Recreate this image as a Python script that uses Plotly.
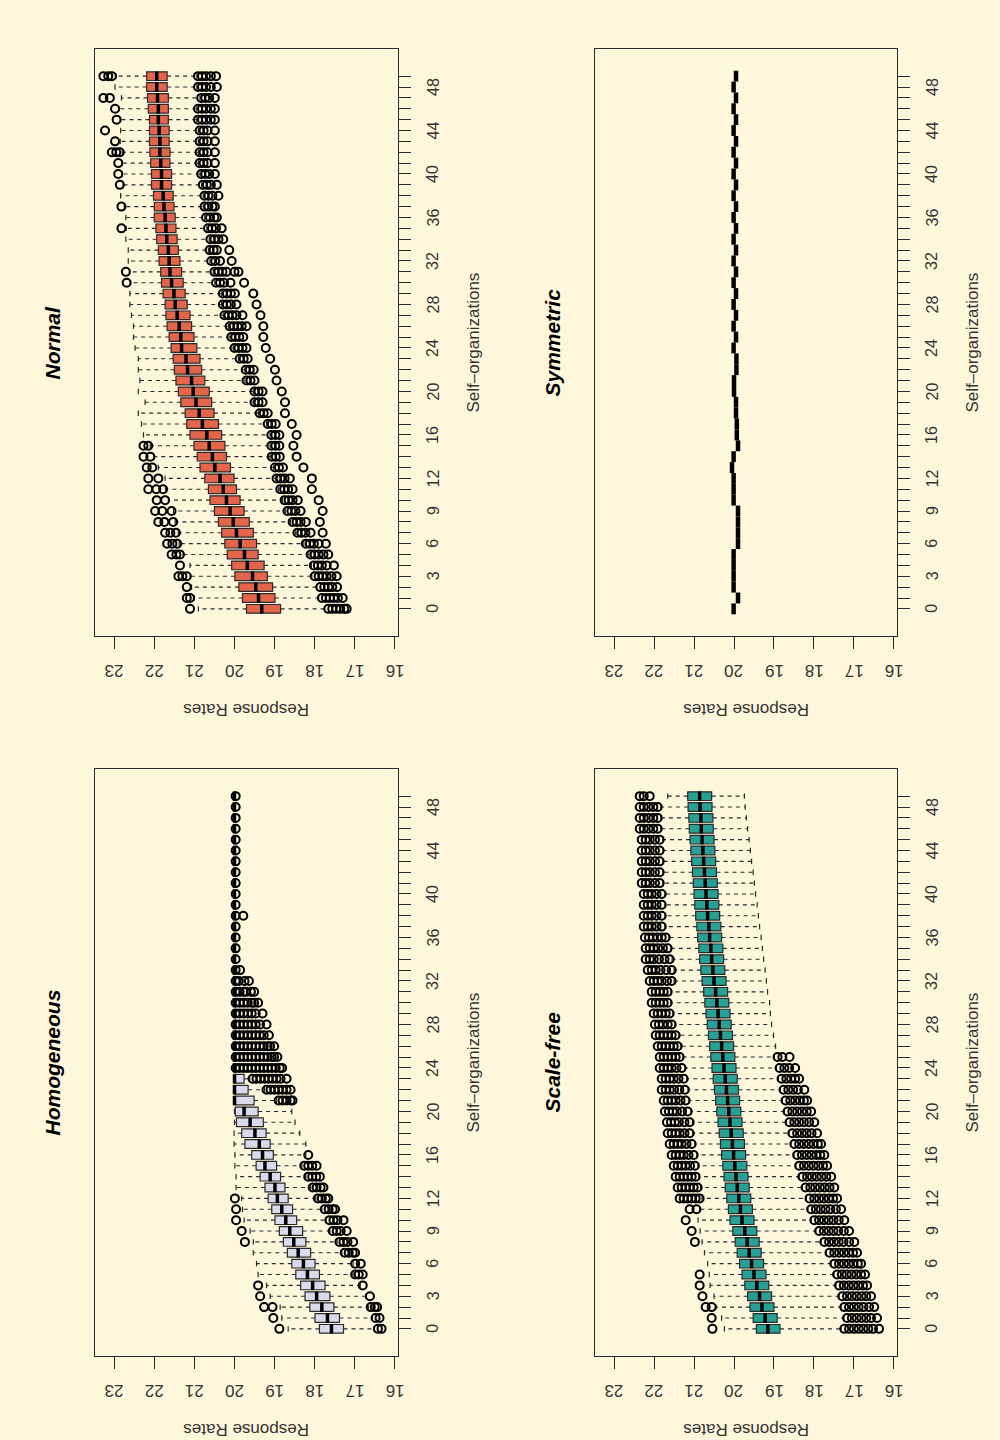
import plotly.graph_objects as go

# ---------------- data ----------------
CATS = list(range(50))
CAT_LABEL_VALUES = [0, 3, 6, 9, 12, 16, 20, 24, 28, 32, 36, 40, 44, 48]
RATE_TICKS = [16, 17, 18, 19, 20, 21, 22, 23]

# Normal
normal_q1 = [18.85, 18.99, 19.05, 19.18, 19.26, 19.41, 19.45, 19.53, 19.63, 19.76,
             19.86, 19.95, 20.01, 20.10, 20.20, 20.24, 20.32, 20.40, 20.51, 20.57,
             20.63, 20.74, 20.82, 20.86, 20.94, 21.01, 21.07, 21.11, 21.18, 21.23,
             21.28, 21.32, 21.36, 21.40, 21.43, 21.46, 21.48, 21.51, 21.53, 21.57,
             21.57, 21.61, 21.61, 21.63, 21.63, 21.65, 21.65, 21.65, 21.68, 21.68]
normal_med = [19.32, 19.40, 19.47, 19.55, 19.68, 19.75, 19.86, 19.95, 20.03, 20.11,
              20.20, 20.28, 20.36, 20.49, 20.55, 20.63, 20.69, 20.80, 20.88, 20.96,
              21.03, 21.07, 21.17, 21.21, 21.32, 21.34, 21.38, 21.43, 21.48, 21.51,
              21.57, 21.61, 21.63, 21.65, 21.69, 21.71, 21.73, 21.76, 21.78, 21.82,
              21.82, 21.84, 21.86, 21.86, 21.88, 21.90, 21.90, 21.92, 21.94, 21.94]
normal_q3 = [19.70, 19.80, 19.89, 19.99, 20.07, 20.18, 20.24, 20.32, 20.40, 20.50,
             20.61, 20.65, 20.74, 20.86, 20.93, 21.01, 21.11, 21.19, 21.23, 21.34,
             21.40, 21.46, 21.50, 21.53, 21.58, 21.63, 21.68, 21.71, 21.73, 21.78,
             21.82, 21.84, 21.88, 21.90, 21.94, 21.96, 22.00, 22.00, 22.02, 22.07,
             22.07, 22.09, 22.11, 22.12, 22.12, 22.12, 22.15, 22.17, 22.19, 22.19]
normal_uw = [20.90, 21.00, 21.07, 21.10, 21.11, 21.28, 21.38, 21.40, 21.48, 21.52,
             21.65, 21.72, 21.73, 21.90, 22.00, 22.10, 22.27, 22.32, 22.40, 22.23,
             22.40, 22.36, 22.40, 22.40, 22.48, 22.52, 22.52, 22.57, 22.61, 22.61,
             22.60, 22.62, 22.65, 22.65, 22.71, 22.70, 22.71, 22.75, 22.84, 22.78,
             22.80, 22.80, 22.80, 22.85, 22.84, 22.85, 22.88, 22.82, 22.98, 22.95]
normal_lw = [17.75, 17.90, 17.95, 18.07, 18.08, 18.14, 18.27, 18.47, 18.60, 18.73,
             18.80, 18.90, 18.97, 19.02, 19.11, 19.11, 19.11, 19.20, 19.40, 19.53,
             19.53, 19.74, 19.74, 19.90, 20.03, 20.11, 20.15, 20.28, 20.32, 20.32,
             20.49, 20.53, 20.61, 20.65, 20.63, 20.69, 20.74, 20.78, 20.78, 20.82,
             20.86, 20.90, 20.90, 20.90, 20.90, 20.94, 20.94, 20.86, 20.94, 20.94]
normal_out_hi = [[21.11], [21.19, 21.11], [21.19], [21.40, 21.30, 21.19], [21.36],
                 [21.57, 21.45, 21.36], [21.68, 21.55, 21.43], [21.73, 21.60, 21.46],
                 [21.90, 21.75, 21.53], [21.98, 21.80, 21.57], [21.94, 21.73],
                 [22.15, 21.95, 21.78], [22.15, 21.90], [22.19, 22.05], [22.27, 22.10],
                 [22.27, 22.15], [], [], [], [], [], [], [], [], [], [], [], [], [], [],
                 [22.69], [22.71], [], [], [], [22.82], [], [22.82], [], [22.86],
                 [22.90], [22.90], [23.06, 22.95, 22.86], [22.98], [23.23], [22.94],
                 [22.98], [23.27, 23.11], [], [23.27, 23.15, 23.06]]
normal_out_lo = [
    [17.66, 17.56, 17.46, 17.36, 17.26, 17.20], [17.82, 17.72, 17.62, 17.52, 17.42, 17.30],
    [17.86, 17.76, 17.66, 17.56, 17.44], [18.00, 17.90, 17.80, 17.70, 17.58, 17.45],
    [18.02, 17.92, 17.82, 17.70, 17.52], [18.10, 18.00, 17.90, 17.78, 17.66],
    [18.22, 18.12, 18.02, 17.90, 17.72], [18.43, 18.33, 18.23, 18.10, 17.80],
    [18.55, 18.45, 18.35, 18.22, 17.87], [18.68, 18.58, 18.48, 18.35, 17.80],
    [18.75, 18.65, 18.55, 18.42, 17.90], [18.86, 18.76, 18.66, 18.55, 18.07],
    [18.95, 18.85, 18.75, 18.62, 18.07], [18.99, 18.89, 18.79, 18.28],
    [19.07, 18.97, 18.87, 18.45], [19.08, 18.98, 18.88, 18.53],
    [19.08, 18.98, 18.88, 18.45], [19.17, 19.07, 18.97, 18.57],
    [19.37, 19.27, 19.17, 18.74], [19.50, 19.40, 19.30, 18.74],
    [19.50, 19.40, 19.30, 18.82], [19.70, 19.60, 19.50, 18.95],
    [19.72, 19.62, 19.52, 18.99], [19.87, 19.77, 19.67, 19.11],
    [20.00, 19.90, 19.80, 19.70, 19.22], [20.08, 19.98, 19.88, 19.78, 19.28],
    [20.12, 20.02, 19.92, 19.82, 19.70, 19.28], [20.25, 20.15, 20.05, 19.95, 19.80, 19.35],
    [20.29, 20.19, 20.09, 19.95, 19.45], [20.29, 20.19, 20.09, 19.99, 19.53],
    [20.46, 20.36, 20.26, 20.10, 19.76], [20.50, 20.40, 20.30, 20.20, 20.00, 19.90],
    [20.58, 20.48, 20.36, 20.07], [20.62, 20.52, 20.44, 20.13],
    [20.60, 20.50, 20.40, 20.28], [20.66, 20.56, 20.46, 20.32],
    [20.71, 20.61, 20.50, 20.44], [20.75, 20.65, 20.55, 20.49],
    [20.75, 20.65, 20.55, 20.40], [20.79, 20.69, 20.59, 20.44],
    [20.83, 20.73, 20.63, 20.49], [20.87, 20.77, 20.67, 20.49],
    [20.87, 20.77, 20.67, 20.49], [20.87, 20.77, 20.67, 20.49],
    [20.87, 20.77, 20.67, 20.49], [20.91, 20.81, 20.71, 20.59, 20.49],
    [20.91, 20.81, 20.71, 20.59, 20.49], [20.83, 20.73, 20.63, 20.49],
    [20.91, 20.81, 20.71, 20.59, 20.44], [20.91, 20.81, 20.71, 20.59, 20.46]]

# Homogeneous
homog_q1 = [17.28, 17.38, 17.52, 17.62, 17.74, 17.88, 17.99, 18.10, 18.22, 18.30,
            18.45, 18.55, 18.66, 18.74, 18.85, 18.95, 19.03, 19.11, 19.21, 19.28,
            19.41, 19.51, 19.66, 19.76, 20.00, 20.00, 20.00, 20.00, 20.00, 20.00,
            20.00, 20.00, 20.00, 20.00, 20.00, 20.00, 20.00, 20.00, 20.00, 20.00,
            20.00, 20.00, 20.00, 20.00, 20.00, 20.00, 20.00, 20.00, 20.00, 20.00]
homog_med = [17.58, 17.68, 17.82, 17.95, 18.05, 18.18, 18.28, 18.41, 18.52, 18.62,
             18.72, 18.82, 18.93, 18.99, 19.11, 19.24, 19.30, 19.38, 19.49, 19.61,
             19.76, 20.00, 20.00, 20.00, 20.00, 20.00, 20.00, 20.00, 20.00, 20.00,
             20.00, 20.00, 20.00, 20.00, 20.00, 20.00, 20.00, 20.00, 20.00, 20.00,
             20.00, 20.00, 20.00, 20.00, 20.00, 20.00, 20.00, 20.00, 20.00, 20.00]
homog_q3 = [17.88, 17.99, 18.12, 18.24, 18.35, 18.47, 18.57, 18.68, 18.78, 18.88,
            18.99, 19.07, 19.16, 19.24, 19.36, 19.46, 19.57, 19.74, 19.82, 19.95,
            19.98, 20.00, 20.00, 20.00, 20.00, 20.00, 20.00, 20.00, 20.00, 20.00,
            20.00, 20.00, 20.00, 20.00, 20.00, 20.00, 20.00, 20.00, 20.00, 20.00,
            20.00, 20.00, 20.00, 20.00, 20.00, 20.00, 20.00, 20.00, 20.00, 20.00]
homog_uw = [18.66, 18.82, 18.86, 19.11, 19.20, 19.41, 19.45, 19.53, 19.53, 19.61,
            19.76, 19.80, 19.82, 19.96, 19.96, 19.99, 19.99, 20.01, 20.01, 20.00,
            20.00, 20.00, 20.00, 20.00, 20.00, 20.00, 20.00, 20.00, 20.00, 20.00,
            20.00, 20.00, 20.00, 20.00, 20.00, 20.00, 20.00, 20.00, 20.00, 20.00,
            20.00, 20.00, 20.00, 20.00, 20.00, 20.00, 20.00, 20.00, 20.00, 20.00]
homog_lw = [16.52, 16.56, 16.66, 16.72, 16.86, 17.04, 17.04, 17.32, 17.44, 17.62,
            17.72, 17.82, 17.97, 18.10, 18.22, 18.32, 18.22, 18.22, 18.37, 18.49,
            18.57, 18.95, 19.25, 19.62, 20.00, 20.00, 20.00, 20.00, 20.00, 20.00,
            20.00, 20.00, 20.00, 20.00, 20.00, 20.00, 20.00, 20.00, 20.00, 20.00,
            20.00, 20.00, 20.00, 20.00, 20.00, 20.00, 20.00, 20.00, 20.00, 20.00]
homog_out_hi = [[18.88], [19.03], [19.26, 19.05], [19.36], [19.41], [], [], [],
                [19.74], [19.82], [19.96], [19.96], [19.99], [], [], [], [], [], [], [],
                [], [], [], [], [], [], [], [], [], [], [], [], [], [], [], [], [], [],
                [], [], [], [], [], [], [], [], [], [], [], []]
homog_out_lo = [
    [16.42, 16.33], [16.48, 16.38], [16.60, 16.50, 16.44], [16.62], [16.80],
    [16.99, 16.90, 16.80], [16.99, 16.85], [17.25, 17.15, 17.05, 16.99],
    [17.38, 17.28, 17.18, 17.04], [17.55, 17.45, 17.35, 17.20],
    [17.63, 17.53, 17.43, 17.28], [17.75, 17.65, 17.55, 17.49],
    [17.92, 17.82, 17.72, 17.66], [18.05, 17.95, 17.85, 17.78],
    [18.16, 18.06, 17.96, 17.87], [18.26, 18.16, 18.06, 17.95], [18.16], [], [], [], [],
    [18.90, 18.80, 18.70, 18.60, 18.55],
    [19.20, 19.10, 19.00, 18.90, 18.80, 18.70, 18.60],
    [19.55, 19.45, 19.35, 19.25, 19.15, 19.05, 18.95, 18.85, 18.70],
    [19.97, 19.87, 19.77, 19.67, 19.57, 19.47, 19.37, 19.27, 19.17, 19.07, 18.97, 18.87, 18.81],
    [19.97, 19.87, 19.77, 19.67, 19.57, 19.47, 19.37, 19.27, 19.17, 19.07, 19.01, 18.93],
    [19.97, 19.87, 19.77, 19.67, 19.57, 19.47, 19.37, 19.27, 19.17, 19.11, 19.01],
    [19.97, 19.87, 19.77, 19.67, 19.57, 19.47, 19.37, 19.27, 19.14],
    [19.97, 19.87, 19.77, 19.67, 19.57, 19.47, 19.36, 19.20],
    [19.97, 19.87, 19.77, 19.67, 19.57, 19.47, 19.30],
    [19.97, 19.87, 19.77, 19.67, 19.57, 19.51, 19.41],
    [19.97, 19.87, 19.77, 19.72, 19.59, 19.51],
    [19.97, 19.89, 19.75, 19.64], [19.97, 19.86], [19.97], [19.97], [19.97], [19.97],
    [19.97, 19.78], [19.97], [19.97], [19.97], [19.97], [19.97], [19.97], [19.97],
    [19.97], [19.97], [19.97], [19.97]]

# Scale-free
scale_med = [19.15, 19.22, 19.30, 19.36, 19.43, 19.50, 19.56, 19.62, 19.67, 19.73,
             19.80, 19.84, 19.88, 19.92, 19.95, 19.98, 20.01, 20.04, 20.07, 20.10,
             20.13, 20.16, 20.19, 20.22, 20.25, 20.28, 20.31, 20.34, 20.37, 20.40,
             20.43, 20.46, 20.50, 20.53, 20.56, 20.58, 20.61, 20.63, 20.66, 20.68,
             20.70, 20.72, 20.74, 20.76, 20.78, 20.80, 20.82, 20.83, 20.85, 20.86]
scale_q3 = [19.44, 19.52, 19.60, 19.66, 19.73, 19.80, 19.86, 19.92, 19.97, 20.03,
            20.10, 20.14, 20.18, 20.22, 20.25, 20.28, 20.31, 20.34, 20.37, 20.40,
            20.43, 20.46, 20.49, 20.52, 20.55, 20.58, 20.61, 20.64, 20.67, 20.70,
            20.73, 20.76, 20.80, 20.83, 20.86, 20.88, 20.91, 20.93, 20.96, 20.98,
            21.00, 21.02, 21.04, 21.06, 21.08, 21.10, 21.12, 21.13, 21.15, 21.16]
scale_q1 = [18.85, 18.92, 19.00, 19.06, 19.13, 19.20, 19.26, 19.32, 19.37, 19.43,
            19.50, 19.54, 19.58, 19.62, 19.65, 19.68, 19.71, 19.74, 19.77, 19.80,
            19.83, 19.86, 19.89, 19.92, 19.95, 19.98, 20.01, 20.04, 20.07, 20.10,
            20.13, 20.16, 20.20, 20.23, 20.26, 20.28, 20.31, 20.33, 20.36, 20.38,
            20.40, 20.42, 20.44, 20.46, 20.48, 20.50, 20.52, 20.53, 20.55, 20.56]
scale_uw = [20.24, 20.31, 20.45, 20.50, 20.60, 20.62, 20.66, 20.74, 20.80, 20.85,
            20.90, 20.86, 20.80, 20.84, 20.88, 20.90, 20.93, 20.98, 21.03, 21.04,
            21.08, 21.13, 21.15, 21.18, 21.23, 21.28, 21.33, 21.38, 21.48, 21.53,
            21.58, 21.58, 21.50, 21.50, 21.55, 21.58, 21.63, 21.73, 21.73, 21.73,
            21.73, 21.78, 21.78, 21.78, 21.78, 21.78, 21.83, 21.83, 21.83, 21.66]
scale_lw = [17.32, 17.25, 17.32, 17.37, 17.45, 17.50, 17.57, 17.69, 17.82, 17.95,
            18.07, 18.15, 18.19, 18.29, 18.37, 18.45, 18.50, 18.57, 18.62, 18.69,
            18.74, 18.79, 18.84, 18.89, 18.94, 18.99, 18.96, 19.01, 19.06, 19.09,
            19.11, 19.16, 19.19, 19.22, 19.26, 19.29, 19.32, 19.36, 19.39, 19.42,
            19.46, 19.49, 19.52, 19.56, 19.59, 19.62, 19.66, 19.69, 19.72, 19.74]
scale_out_hi = [
    [20.54], [20.56], [20.71, 20.56], [20.79], [20.86], [20.86], [], [], [20.98], [21.06],
    [21.21], [21.11, 20.94],
    [21.36, 21.26, 21.16, 21.06, 20.96, 20.86], [21.41, 21.31, 21.21, 21.11, 21.01, 20.91],
    [21.46, 21.36, 21.26, 21.16, 21.06, 20.96], [21.51, 21.41, 21.31, 21.21, 21.10, 20.98],
    [21.56, 21.46, 21.36, 21.26, 21.14, 21.01], [21.61, 21.51, 21.41, 21.31, 21.19, 21.06],
    [21.66, 21.56, 21.46, 21.36, 21.24, 21.11], [21.68, 21.58, 21.48, 21.38, 21.24, 21.11],
    [21.73, 21.63, 21.53, 21.43, 21.30, 21.16], [21.76, 21.66, 21.56, 21.46, 21.34, 21.21],
    [21.81, 21.71, 21.61, 21.50, 21.37, 21.23], [21.81, 21.71, 21.61, 21.51, 21.39, 21.26],
    [21.86, 21.76, 21.66, 21.56, 21.44, 21.31], [21.86, 21.76, 21.66, 21.56, 21.46, 21.36],
    [21.91, 21.81, 21.71, 21.61, 21.51, 21.41], [21.96, 21.86, 21.76, 21.66, 21.56, 21.46],
    [21.98, 21.88, 21.78, 21.66, 21.56], [22.01, 21.91, 21.81, 21.71, 21.61],
    [22.06, 21.96, 21.86, 21.76, 21.66], [22.06, 21.96, 21.86, 21.76, 21.66],
    [22.11, 22.01, 21.91, 21.81, 21.68, 21.56], [22.16, 22.06, 21.96, 21.84, 21.70, 21.56],
    [22.21, 22.11, 22.01, 21.88, 21.74, 21.61], [22.21, 22.11, 22.01, 21.90, 21.78, 21.66],
    [22.23, 22.13, 22.03, 21.92, 21.81, 21.71], [22.26, 22.16, 22.06, 21.94, 21.81],
    [22.26, 22.16, 22.06, 21.94, 21.81], [22.26, 22.16, 22.06, 21.94, 21.81],
    [22.26, 22.16, 22.06, 21.94, 21.81], [22.31, 22.21, 22.11, 21.98, 21.86],
    [22.31, 22.21, 22.11, 21.98, 21.86], [22.31, 22.21, 22.11, 21.98, 21.86],
    [22.31, 22.21, 22.11, 21.98, 21.86], [22.31, 22.21, 22.11, 21.98, 21.86],
    [22.36, 22.26, 22.14, 22.02, 21.91], [22.36, 22.26, 22.14, 22.02, 21.91],
    [22.36, 22.26, 22.14, 22.02, 21.91], [22.36, 22.26, 22.11]]
scale_out_lo = [
    [17.24, 17.12, 17.00, 16.88, 16.76, 16.64, 16.52, 16.37],
    [17.17, 17.05, 16.93, 16.81, 16.69, 16.57, 16.42],
    [17.24, 17.12, 17.00, 16.88, 16.76, 16.62, 16.49],
    [17.29, 17.17, 17.05, 16.93, 16.81, 16.69, 16.57],
    [17.37, 17.25, 17.13, 17.01, 16.89, 16.77, 16.67],
    [17.42, 17.30, 17.18, 17.06, 16.94, 16.82, 16.72],
    [17.49, 17.37, 17.25, 17.13, 17.01, 16.90, 16.82],
    [17.61, 17.49, 17.37, 17.25, 17.13, 17.02, 16.92],
    [17.74, 17.62, 17.50, 17.38, 17.26, 17.12, 16.99],
    [17.87, 17.75, 17.63, 17.51, 17.39, 17.25, 17.12],
    [17.99, 17.87, 17.75, 17.63, 17.51, 17.38, 17.24],
    [18.07, 17.95, 17.83, 17.71, 17.59, 17.45, 17.32],
    [18.11, 17.99, 17.87, 17.75, 17.63, 17.52, 17.42],
    [18.21, 18.09, 17.97, 17.85, 17.73, 17.61, 17.49],
    [18.29, 18.17, 18.05, 17.93, 17.81, 17.69, 17.57],
    [18.37, 18.25, 18.13, 18.01, 17.89, 17.77, 17.67],
    [18.42, 18.30, 18.18, 18.06, 17.94, 17.84, 17.74],
    [18.49, 18.37, 18.25, 18.13, 18.01, 17.90, 17.82],
    [18.54, 18.42, 18.30, 18.18, 18.06, 17.92],
    [18.61, 18.49, 18.37, 18.25, 18.12, 17.99],
    [18.66, 18.54, 18.42, 18.30, 18.18, 18.07],
    [18.71, 18.59, 18.47, 18.35, 18.25, 18.17],
    [18.76, 18.64, 18.52, 18.40, 18.24],
    [18.81, 18.69, 18.57, 18.47, 18.37],
    [18.86, 18.74, 18.62, 18.47],
    [18.91, 18.79, 18.61],
    [], [], [], [], [], [], [], [], [], [], [], [], [], [], [], [], [], [], [], [], [], [], [], []]

# Symmetric
sym_val = [20.01, 19.90, 20.01, 20.01, 20.01, 20.01, 19.90, 19.90, 19.90, 19.90,
           20.01, 20.01, 20.01, 20.05, 20.01, 19.90, 19.93, 19.93, 19.95, 19.95,
           20.00, 20.00, 19.94, 19.94, 20.01, 19.95, 20.01, 19.95, 20.01, 19.95,
           20.01, 19.95, 20.01, 19.95, 20.01, 19.95, 20.01, 19.95, 20.01, 19.95,
           20.01, 19.95, 20.01, 19.95, 20.01, 19.95, 20.01, 19.95, 20.01, 19.95]

# ---------------- styling ----------------
BG = "#FFF7DC"
INK = "#2a2a2a"
TXT = "#333333"
FONT = "Liberation Sans, Arial, sans-serif"
BOX_HALF = 0.4
CAP_HALF = 0.25
RATE_RANGE = [23.48, 15.92]
CAT_RANGE = [-2.5, 51.5]
COL_DOM = [[0.095, 0.398], [0.595, 0.897]]
ROW_DOM = [[0.5583, 0.9660], [0.0583, 0.4660]]

panels = [
    dict(title="Normal", q1=normal_q1, med=normal_med, q3=normal_q3, lw=normal_lw,
         uw=normal_uw, hi=normal_out_hi, lo=normal_out_lo, color="#E5654B",
         col=0, row=0, med_half=0.43, med_w=3.5),
    dict(title="Symmetric", q1=sym_val, med=sym_val, q3=sym_val, lw=sym_val,
         uw=sym_val, hi=[[] for _ in CATS], lo=[[] for _ in CATS], color=BG,
         col=1, row=0, med_half=0.5, med_w=4.5),
    dict(title="Homogeneous", q1=homog_q1, med=homog_med, q3=homog_q3, lw=homog_lw,
         uw=homog_uw, hi=homog_out_hi, lo=homog_out_lo, color="#D9DBEC",
         col=0, row=1, med_half=0.43, med_w=3.5),
    dict(title="Scale-free", q1=scale_q1, med=scale_med, q3=scale_q3, lw=scale_lw,
         uw=scale_uw, hi=scale_out_hi, lo=scale_out_lo, color="#27A095",
         col=1, row=1, med_half=0.43, med_w=3.5),
]

fig = go.Figure()
annotations = []
layout_axes = {}

for i, p in enumerate(panels):
    n = "" if i == 0 else str(i + 1)
    xa, ya = "x" + n, "y" + n
    fig.add_trace(go.Box(
        y=CATS, q1=p["q1"], median=p["med"], q3=p["q3"],
        lowerfence=p["q1"], upperfence=p["q3"], orientation="h", width=2 * BOX_HALF,
        fillcolor=p["color"], line=dict(color=INK, width=1.2), boxpoints=False,
        xaxis=xa, yaxis=ya, showlegend=False, hoverinfo="skip"))
    wx, wy, cx, cy, mx, my = [], [], [], [], [], []
    for k in CATS:
        for a, b in ((p["q3"][k], p["uw"][k]), (p["q1"][k], p["lw"][k])):
            if abs(a - b) > 1e-9:
                wx += [a, b, None]
                wy += [k, k, None]
                cx += [b, b, None]
                cy += [k - CAP_HALF, k + CAP_HALF, None]
        mx += [p["med"][k], p["med"][k], None]
        my += [k - p["med_half"], k + p["med_half"], None]
    fig.add_trace(go.Scatter(x=wx, y=wy, mode="lines", xaxis=xa, yaxis=ya,
                             line=dict(color=INK, width=1.1, dash="4px,4px"),
                             showlegend=False, hoverinfo="skip"))
    fig.add_trace(go.Scatter(x=cx, y=cy, mode="lines", xaxis=xa, yaxis=ya,
                             line=dict(color=INK, width=1.2),
                             showlegend=False, hoverinfo="skip"))
    fig.add_trace(go.Scatter(x=mx, y=my, mode="lines", xaxis=xa, yaxis=ya,
                             line=dict(color="#000000", width=p["med_w"]),
                             showlegend=False, hoverinfo="skip"))
    ox, oy = [], []
    for k in CATS:
        for v in p["hi"][k] + p["lo"][k]:
            ox.append(v)
            oy.append(k)
    if ox:
        fig.add_trace(go.Scatter(x=ox, y=oy, mode="markers", xaxis=xa, yaxis=ya,
                                 marker=dict(symbol="circle-open", size=8, color="#000000",
                                             line=dict(width=2)),
                                 showlegend=False, hoverinfo="skip"))

    layout_axes["xaxis" + n] = dict(
        domain=COL_DOM[p["col"]], anchor=ya, range=RATE_RANGE, tickvals=RATE_TICKS,
        showticklabels=False, ticks="outside", ticklen=12, tickwidth=1.2, tickcolor=INK,
        showline=True, linecolor=INK, linewidth=1.2, mirror=True,
        showgrid=False, zeroline=False, fixedrange=True)
    layout_axes["yaxis" + n] = dict(
        domain=ROW_DOM[p["row"]], anchor=xa, side="right", range=CAT_RANGE,
        tickvals=CATS, showticklabels=False, ticks="outside", ticklen=12,
        tickwidth=1.2, tickcolor=INK, showline=True, linecolor=INK, linewidth=1.2,
        mirror=True, showgrid=False, zeroline=False, fixedrange=True)

    for t in RATE_TICKS:
        annotations.append(dict(x=t, xref=xa, y=0, yref=ya + " domain", yshift=-35,
                                xanchor="center", yanchor="middle",
                                text=str(t), textangle=180, showarrow=False,
                                font=dict(family=FONT, size=17, color=TXT)))
    for c in CAT_LABEL_VALUES:
        annotations.append(dict(x=1, xref=xa + " domain", xshift=35, y=c, yref=ya,
                                xanchor="center", yanchor="middle",
                                text=str(c), textangle=-90, showarrow=False,
                                font=dict(family=FONT, size=16, color=TXT)))
    x0, x1 = COL_DOM[p["col"]]
    y0, y1 = ROW_DOM[p["row"]]
    annotations.append(dict(x=(x0 + x1) / 2, xref="paper", y=y0, yref="paper", yshift=-74,
                            xanchor="center", yanchor="middle",
                            text="Response Rates", textangle=180, showarrow=False,
                            font=dict(family=FONT, size=17, color=TXT)))
    annotations.append(dict(x=x1, xref="paper", xshift=76, y=(y0 + y1) / 2, yref="paper",
                            xanchor="center", yanchor="middle",
                            text="Self\u2013organizations", textangle=-90, showarrow=False,
                            font=dict(family=FONT, size=17, color=TXT)))
    annotations.append(dict(x=x0, xref="paper", xshift=-42, y=(y0 + y1) / 2, yref="paper",
                            xanchor="center", yanchor="middle",
                            text="<b><i>%s</i></b>" % p["title"], textangle=-90,
                            showarrow=False,
                            font=dict(family=FONT, size=21, color="#000000")))

fig.update_layout(
    width=1000, height=1440, margin=dict(l=0, r=0, t=0, b=0),
    paper_bgcolor=BG, plot_bgcolor=BG, showlegend=False,
    annotations=annotations, **layout_axes)

fig.write_html("out.html", config={"displayModeBar": False},
               post_script="document.body.style.margin='0';document.body.style.background='%s';" % BG)
